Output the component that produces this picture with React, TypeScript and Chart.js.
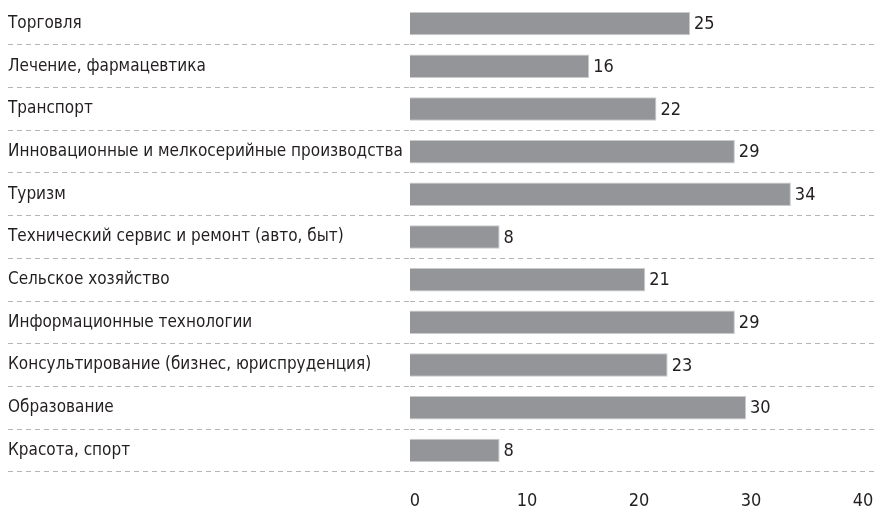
import React, { useEffect, useRef } from "react";
import { Chart, registerables } from "chart.js";

Chart.register(...registerables);

const categories = [
  "Торговля",
  "Лечение, фармацевтика",
  "Транспорт",
  "Инновационные и мелкосерийные производства",
  "Туризм",
  "Технический сервис и ремонт (авто, быт)",
  "Сельское хозяйство",
  "Информационные технологии",
  "Консультирование (бизнес, юриспруденция)",
  "Образование",
  "Красота, спорт",
];

const values = [25, 16, 22, 29, 34, 8, 21, 29, 23, 30, 8];

const xTicks = [0, 10, 20, 30, 40];

const FONT = "'DejaVu Sans Condensed', 'Liberation Sans Narrow', 'Open Sans', sans-serif";
const TEXT = "#231f20";
const GRID = "#b5b5b7";

const valueLabelPlugin = {
  id: "valueLabels",
  afterDatasetsDraw(chart: any) {
    const ctx = chart.ctx;
    const meta = chart.getDatasetMeta(0);
    ctx.save();
    ctx.font = `18px ${FONT}`;
    ctx.fillStyle = TEXT;
    ctx.textAlign = "left";
    ctx.textBaseline = "middle";
    meta.data.forEach((bar: any, i: number) => {
      ctx.fillText(String(values[i]), bar.x + 4, bar.y + 1);
    });
    ctx.restore();
  },
};

export default function App() {
  const ref = useRef<HTMLCanvasElement | null>(null);
  useEffect(() => {
    if (!ref.current) return;
    const chart = new Chart(ref.current, {
      type: "bar",
      data: {
        labels: categories,
        datasets: [
          {
            data: values,
            backgroundColor: "#939598",
            borderColor: "#c9cacc",
            borderWidth: 1,
            categoryPercentage: 1,
            barPercentage: 0.55,
          },
        ],
      },
      plugins: [valueLabelPlugin],
      options: {
        indexAxis: "y",
        animation: false,
        responsive: true,
        maintainAspectRatio: false,
        layout: { padding: { left: 8, top: 2.3, right: 8, bottom: 0 } },
        plugins: {
          legend: { display: false },
          tooltip: { enabled: false },
        },
        scales: {
          x: {
            position: "bottom",
            min: 0,
            max: 41.6,
            afterBuildTicks: (scale: any) => {
              scale.ticks = xTicks.map((v) => ({ value: v }));
            },
            afterFit: (scale: any) => {
              scale.height = 37.3;
              scale.paddingLeft = 0;
              scale.paddingRight = 0;
            },
            grid: { display: false, drawTicks: false },
            border: { display: false },
            ticks: {
              stepSize: 10,
              padding: 19,
              labelOffset: 5,
              color: TEXT,
              font: { family: FONT, size: 18 },
            },
          },
          y: {
            afterFit: (scale: any) => {
              scale.width = 402;
              scale.paddingTop = 0;
              scale.paddingBottom = 0;
            },
            border: { display: false, dash: [5, 4] },
            grid: {
              offset: true,
              color: (c: any) => (c.index === 0 ? "rgba(0,0,0,0)" : GRID),
              tickColor: (c: any) => (c.index === 0 ? "rgba(0,0,0,0)" : GRID),
              lineWidth: 1,
              tickBorderDash: [5, 4],
              drawTicks: true,
              tickLength: 402,
            },
            ticks: {
              crossAlign: "far",
              padding: 0,
              color: TEXT,
              font: { family: FONT, size: 17 },
            },
          },
        },
      },
    } as any);
    return () => chart.destroy();
  }, []);
  return (
    <div style={{ position: "absolute", left: 0, top: 0, width: 884, height: 509 }}>
      <canvas ref={ref} />
    </div>
  );
}
